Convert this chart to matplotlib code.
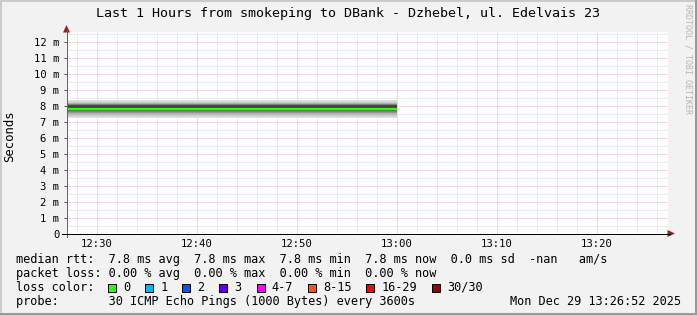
import matplotlib
matplotlib.use("Agg")
import matplotlib.pyplot as plt
from matplotlib.patches import Rectangle, Polygon

# ---------------- data ----------------
title = "Last 1 Hours from smokeping to DBank - Dzhebel, ul. Edelvais 23"
# time axis in minutes after 12:00
x_min, x_max = 27.0, 87.15
data_start, data_end = 25.0, 60.0          # smoke/median present 12:25 .. 13:00
median_ms = 7.8
# 30 sorted ping RTTs (ms) for each step (constant over the period)
pings_ms = [7.22, 7.28, 7.34, 7.40, 7.46, 7.51, 7.55, 7.59, 7.62, 7.65,
            7.68, 7.71, 7.74, 7.77, 7.80, 7.80, 7.97, 8.01, 8.03, 8.05,
            8.06, 8.07, 8.08, 8.09, 8.11, 8.13, 8.16, 8.21, 8.28, 8.36]
y_ticks = list(range(0, 13))
y_tick_labels = ["0"] + [f"{v} m" for v in range(1, 13)]
x_ticks = [30, 40, 50, 60, 70, 80]
x_tick_labels = ["12:30", "12:40", "12:50", "13:00", "13:10", "13:20"]
loss_labels = ["0", "1", "2", "3", "4-7", "8-15", "16-29", "30/30"]
loss_colors = ["#26ff00", "#00b8ff", "#0059ff", "#5e00ff",
               "#ff00ff", "#ff5500", "#ff0000", "#a00000"]
line_rtt = "median rtt:  7.8 ms avg  7.8 ms max  7.8 ms min  7.8 ms now  0.0 ms sd  -nan   am/s"
line_loss = "packet loss: 0.00 % avg  0.00 % max  0.00 % min  0.00 % now"
line_probe = "probe:       30 ICMP Echo Pings (1000 Bytes) every 3600s"
stamp = "Mon Dec 29 13:26:52 2025"
watermark = "RRDTOOL / TOBI OETIKER"

W, H = 697, 315
MONO = "DejaVu Sans Mono"

fig = plt.figure(figsize=(W / 100, H / 100), dpi=100, facecolor="#f2f2f2")

# background / frame axes in pixel coordinates
bg = fig.add_axes([0, 0, 1, 1], zorder=0)
bg.set_xlim(0, W); bg.set_ylim(H, 0); bg.axis("off")
bg.add_patch(Rectangle((0, 0), W, 2, color="#cbcbcb", lw=0))
bg.add_patch(Rectangle((0, 0), 2, H, color="#cbcbcb", lw=0))
bg.add_patch(Rectangle((0, H - 2), W, 2, color="#999999", lw=0))
bg.add_patch(Rectangle((W - 2, 0), 2, H, color="#999999", lw=0))

# main plot axes
px_l, px_r, px_t, px_b = 66.5, 668.0, 32.0, 233.5
ax = fig.add_axes([px_l / W, (H - px_b) / H, (px_r - px_l) / W, (px_b - px_t) / H], zorder=1)
ax.set_facecolor("white")
ax.set_xlim(x_min, x_max)
ax.set_ylim(0, (px_b - px_t) / 16.0)

# grid
ax.set_xticks([m for m in range(28, 88, 2)], minor=True)
ax.set_yticks([v * 0.5 for v in range(0, 26)], minor=True)
ax.set_xticks(x_ticks)
ax.set_xticklabels(x_tick_labels, fontfamily=MONO, fontsize=7.6)
ax.set_yticks(y_ticks)
ax.set_yticklabels(y_tick_labels, fontfamily=MONO, fontsize=7.6)
ax.grid(which="minor", color="#d9d9d9", linestyle=(0, (1, 1)), lw=0.72)
ax.grid(which="major", color="#eab4b4", linestyle=(0, (1, 1)), lw=0.72)
ax.set_axisbelow(True)
ax.tick_params(axis="both", which="minor", length=0)
ax.tick_params(axis="y", which="major", length=2.2, width=0.72, color="#555555",
               direction="out", pad=3.0)
ax.tick_params(axis="x", which="major", length=0, pad=4.0)
for s in ax.spines.values():
    s.set_visible(False)

# smoke: nested bands from outer ping pairs to inner pairs
n = len(pings_ms)
half = n // 2
for i in range(1, half + 1):
    g = int(190 / half * (half - i)) + 50
    col = "#%02x%02x%02x" % (g, g, g)
    ax.fill_between([data_start, data_end], [pings_ms[i - 1]] * 2, [pings_ms[n - i]] * 2,
                    color=col, lw=0, zorder=2)
# median line
ax.plot([data_start, data_end], [median_ms, median_ms], color=loss_colors[0],
        lw=1.7, solid_capstyle="butt", zorder=3, clip_on=True)

# foreground axes for axis lines, arrows and texts
fg = fig.add_axes([0, 0, 1, 1], zorder=3)
fg.set_xlim(0, W); fg.set_ylim(H, 0); fg.axis("off"); fg.patch.set_alpha(0)
fg.plot([66.5, 66.5], [237, 30], color="#666666", lw=0.72)
fg.plot([62, 670], [233.5, 233.5], color="black", lw=0.72)
fg.add_patch(Polygon([[63.0, 32.5], [70.0, 32.5], [66.5, 25.0]], closed=True,
                     color="#9a2020", lw=0))
fg.add_patch(Polygon([[667.5, 230.0], [667.5, 237.0], [675.0, 233.5]], closed=True,
                     color="#9a2020", lw=0))

fg.text(347.5, 13.5, title, ha="center", va="center", fontfamily=MONO, fontsize=9.6,
        color="black")
fg.text(10, 136, "Seconds", rotation=90, ha="center", va="center", fontfamily=MONO,
        fontsize=8.8, color="black")
fg.text(688, 4, watermark, rotation=270, ha="center", va="top", fontfamily=MONO,
        fontsize=6.0, color="#b4b4b4")

LEG = 8.55
cw = 7.13
fg.text(16, 259.5, line_rtt, ha="left", va="center", fontfamily=MONO, fontsize=LEG)
fg.text(16, 273.5, line_loss, ha="left", va="center", fontfamily=MONO, fontsize=LEG)
fg.text(16, 287.5, "loss color:", ha="left", va="center", fontfamily=MONO, fontsize=LEG)
fg.text(16, 301.5, line_probe, ha="left", va="center", fontfamily=MONO, fontsize=LEG)
fg.text(681, 301.5, stamp, ha="right", va="center", fontfamily=MONO, fontsize=LEG)

bx = 108.0
for lab, col in zip(loss_labels, loss_colors):
    fg.add_patch(Rectangle((bx, 283.5), 8, 8, facecolor=col, edgecolor="black", lw=0.72))
    fg.text(bx + 15, 287.5, lab, ha="left", va="center", fontfamily=MONO, fontsize=LEG)
    bx += 15 + len(lab) * cw + 15

fig.savefig("out.png", dpi=100, facecolor=fig.get_facecolor())
